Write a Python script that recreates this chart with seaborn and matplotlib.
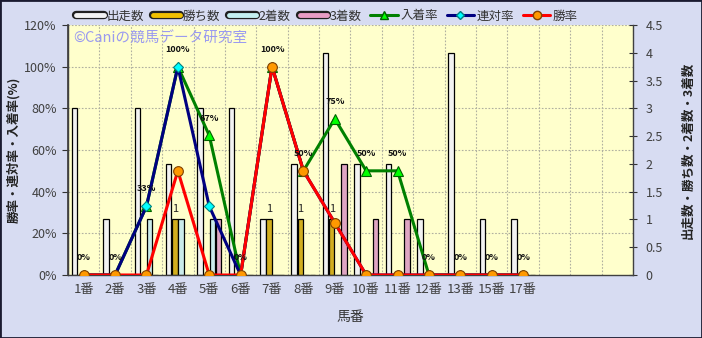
import numpy as np
import pandas as pd
import matplotlib
matplotlib.use("Agg")
import matplotlib.pyplot as plt
import matplotlib.patheffects as pe
from matplotlib.lines import Line2D
from matplotlib.patches import Rectangle
import seaborn as sns

# ---- data ----
categories = ["1番", "2番", "3番", "4番", "5番", "6番", "7番", "8番", "9番",
              "10番", "11番", "12番", "13番", "15番", "17番"]
starts = [3, 1, 3, 2, 3, 3, 1, 2, 4, 2, 2, 1, 4, 1, 1]      # 出走数
wins = [0, 0, 0, 1, 0, 0, 1, 1, 1, 0, 0, 0, 0, 0, 0]        # 勝ち数
seconds = [0, 0, 1, 1, 1, 0, 0, 0, 0, 0, 0, 0, 0, 0, 0]     # 2着数
thirds = [0, 0, 0, 0, 1, 0, 0, 0, 2, 1, 1, 0, 0, 0, 0]      # 3着数
place_rate = [0, 0, 33, 100, 67, 0, 100, 50, 75, 50, 50, 0, 0, 0, 0]   # 入着率
top2_rate = [0, 0, 33, 100, 33, 0, 100, 50, 25, 0, 0, 0, 0, 0, 0]      # 連対率
win_rate = [0, 0, 0, 50, 0, 0, 100, 50, 25, 0, 0, 0, 0, 0, 0]          # 勝率
n_slots = 18

bar_names = ["出走数", "勝ち数", "2着数", "3着数"]
bar_colors = ["#F2F2F2", "#F0C000", "#C4F0F0", "#E89CC4"]

sns.set_theme(style="white")
plt.rcParams["font.family"] = ["Noto Sans CJK JP", "DejaVu Sans"]

df = pd.DataFrame({"馬番": categories, "出走数": starts, "勝ち数": wins,
                   "2着数": seconds, "3着数": thirds})
long = df.melt(id_vars="馬番", value_vars=bar_names, var_name="series", value_name="count")

fig = plt.figure(figsize=(7.02, 3.38), dpi=100)
fig.patch.set_facecolor("#D7DCF2")
ax = fig.add_axes([68/702, 1-275/338, (633-68)/702, (275-25)/338])
ax.set_facecolor("#FFFFCC")

sns.barplot(data=long, x="馬番", y="count", hue="series", order=categories,
            hue_order=bar_names, palette=dict(zip(bar_names, bar_colors)),
            width=0.78, gap=0.1, edgecolor="black", linewidth=0.9,
            legend=False, ax=ax, zorder=2)

# ---- lines on left axis ----
ax2 = ax.twinx()
ax2.set_facecolor("none")
xpos = np.arange(len(categories))
sns.lineplot(x=xpos, y=place_rate, ax=ax2, color="#008000", linewidth=2.2,
             marker="^", markersize=7.5, markerfacecolor="#00FF00",
             markeredgecolor="#006000", markeredgewidth=0.8)
sns.lineplot(x=xpos, y=top2_rate, ax=ax2, color="#000080", linewidth=2.2,
             marker="D", markersize=5.5, markerfacecolor="#00FFFF",
             markeredgecolor="#008080", markeredgewidth=0.8)
sns.lineplot(x=xpos, y=win_rate, ax=ax2, color="#FF0000", linewidth=2.2,
             marker="o", markersize=7, markerfacecolor="#FF9900",
             markeredgecolor="#804000", markeredgewidth=0.8)

# right axis (counts) on ax
ax.set_xlim(-0.5, n_slots - 0.5)
ax.set_ylim(0, 4.5)
ax.yaxis.tick_right()
ax.yaxis.set_label_position("right")
ax.set_yticks(np.arange(0, 4.51, 0.5))
ax.set_yticklabels(["0", "0.5", "1", "1.5", "2", "2.5", "3", "3.5", "4", "4.5"])
ax.tick_params(axis="y", which="major", left=False, labelleft=False, right=True,
               labelright=True, direction="inout", length=6,
               width=0.8, color="#333333", labelsize=9, labelcolor="#404040", pad=6)
ax.set_xticks(range(len(categories)))
ax.set_xticklabels(categories)
ax.tick_params(axis="x", length=0, labelsize=9.5, labelcolor="#404040", pad=6)
ax.set_xticks(np.arange(-0.5, n_slots, 1), minor=True)
ax.tick_params(axis="x", which="minor", length=0)
ax.grid(False)
ax.grid(which="minor", axis="x", color="#B0B0A0", linestyle=(0, (1.5, 1.5)), linewidth=0.8, zorder=0)
for yv in np.arange(0.75, 4.51, 0.75):
    ax.axhline(yv, color="#B0B0A0", linestyle=(0, (1.5, 1.5)), linewidth=0.8, zorder=0)
ax.set_xlabel("馬番", fontsize=10, color="#333333", labelpad=10)
ax.set_ylabel("出走数・勝ち数・2着数・3着数", fontsize=9, fontweight="bold",
              color="#222222", rotation=90)
ax.yaxis.set_label_coords((682 - 68) / 565, 0.5)
for s in ["left", "bottom", "right"]:
    ax.spines[s].set_color("#404040")
    ax.spines[s].set_linewidth(1)
ax.spines["top"].set_visible(False)

# "1" labels on win bars
win_container = ax.containers[1]
ax.bar_label(win_container, labels=["1" if v > 0 else "" for v in wins],
             padding=4, fontsize=8, color="#222222")

ax2.set_ylim(0, 120)
ax2.yaxis.tick_left()
ax2.yaxis.set_label_position("left")
ax2.set_yticks(range(0, 121, 20))
ax2.set_yticklabels([f"{v}%" for v in range(0, 121, 20)])
ax2.tick_params(axis="y", left=True, labelleft=True, right=False, labelright=False,
                direction="out", length=4, width=0.8,
                color="#333333", labelsize=9, labelcolor="#404040", pad=4)
ax2.set_ylabel("勝率・連対率・入着率(%)", fontsize=9, fontweight="bold",
               color="#222222")
ax2.yaxis.set_label_coords((20 - 68) / 565, 0.5)
ax2.set_xlim(-0.5, n_slots - 0.5)
for s in ax2.spines.values():
    s.set_visible(False)
ax2.spines["left"].set_visible(True)
ax2.spines["left"].set_color("#404040")
ax2.grid(False)

for x, v in zip(xpos, place_rate):
    ax2.annotate(f"{v}%", (x, v), xytext=(0, 12.5), textcoords="offset points",
                 ha="center", va="center", fontsize=6.5, fontweight="bold",
                 color="#111111")

# watermark
fig.text(73/702, 1-39/338, "©Caniの競馬データ研究室", fontsize=10.5,
         color="#9A9AF0", ha="left", va="center")

# legend
handles = []
for c in bar_colors:
    handles.append(Line2D([0], [0], color=c, linewidth=3.5, solid_capstyle="round",
                          path_effects=[pe.Stroke(linewidth=6, foreground="#202020",
                                                  capstyle="round"), pe.Normal()]))
handles.append(Line2D([0], [0], color="#008000", lw=2.2, marker="^", markersize=6,
                      markerfacecolor="#00FF00", markeredgecolor="#006000"))
handles.append(Line2D([0], [0], color="#000080", lw=2.2, marker="D", markersize=4.5,
                      markerfacecolor="#00FFFF", markeredgecolor="#008080"))
handles.append(Line2D([0], [0], color="#FF0000", lw=2.2, marker="o", markersize=6,
                      markerfacecolor="#FF9900", markeredgecolor="#804000"))
labels = bar_names + ["入着率", "連対率", "勝率"]
fig.legend(handles, labels, loc="center", bbox_to_anchor=(327/702, 1-16/338), ncol=7,
           frameon=False, fontsize=9, handlelength=2.2, handletextpad=0.2,
           columnspacing=0.7, labelcolor="#333333")

# outer border
fig.add_artist(Rectangle((0, 0), 1, 1, transform=fig.transFigure, fill=False,
                         edgecolor="#1A1A30", linewidth=2))

fig.savefig("out.png", dpi=100, facecolor=fig.get_facecolor())
